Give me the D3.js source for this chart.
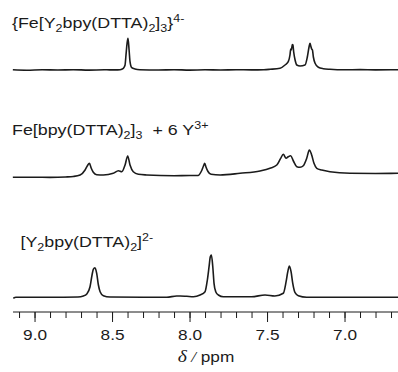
<!DOCTYPE html>
<html>
<head>
<meta charset="utf-8">
<script src="https://cdn.jsdelivr.net/npm/d3@7"></script>
<style>
  body { margin: 0; background: #fff; }
  svg { display: block; font-family: "Liberation Sans", Arial, sans-serif; }
</style>
</head>
<body>
<svg id="chart" width="398" height="372"></svg>
<script>
// spectra as [ppm, intensity]
const topSpectrum = [
  [9.14, 0.2], [9.05, -0.2], [8.95, 0.3], [8.85, 0], [8.75, 0.3], [8.65, -0.1], [8.55, 0.2],
  [8.48, 0.1], [8.448, 0.3], [8.427, 1.7], [8.416, 5], [8.41, 15], [8.403, 26.7], [8.397, 31.7],
  [8.39, 20], [8.384, 8.3], [8.373, 2.3], [8.352, 1], [8.32, 0.3], [8.2, 0], [8.1, 0.3],
  [8.0, -0.1], [7.9, 0.2], [7.8, 0], [7.7, 0.3], [7.6, 0.1], [7.52, 0.3], [7.481, 0.7],
  [7.416, 1.7], [7.384, 5], [7.363, 8.3], [7.352, 15], [7.347, 21], [7.343, 20], [7.337, 25.5],
  [7.333, 25], [7.328, 18], [7.319, 10], [7.308, 5], [7.287, 4], [7.255, 5], [7.24, 13],
  [7.229, 23], [7.223, 26.7], [7.217, 23.5], [7.212, 21], [7.207, 20], [7.201, 13], [7.19, 6.7],
  [7.169, 2.7], [7.137, 1.3], [7.094, 0.7], [7.0, 0.2], [6.9, 0.4], [6.8, 0.1], [6.655, 0.3]
];
const midSpectrum = [
  [9.14, 0.7], [9.0, 0.8], [8.9, 0.6], [8.8, 1], [8.75, 1.5], [8.706, 3], [8.674, 8],
  [8.659, 12.3], [8.646, 14.7], [8.634, 9.7], [8.621, 5.7], [8.599, 3.3], [8.556, 3],
  [8.492, 4.7], [8.459, 7.3], [8.437, 6.3], [8.416, 13], [8.399, 22], [8.384, 13], [8.363, 6.3],
  [8.33, 3.7], [8.276, 3], [8.1, 2.2], [8.0, 2.5], [7.945, 2.5], [7.923, 7], [7.91, 12],
  [7.902, 14.7], [7.894, 11], [7.881, 6.5], [7.861, 3.7], [7.803, 3], [7.674, 4.7], [7.545, 7],
  [7.481, 9.7], [7.437, 13], [7.412, 19.7], [7.395, 23.7], [7.377, 19.7], [7.363, 21.3],
  [7.347, 22.3], [7.33, 17], [7.308, 11.3], [7.287, 10.7], [7.266, 12.3], [7.244, 19.7],
  [7.227, 28], [7.212, 23], [7.197, 14.7], [7.179, 9.7], [7.147, 8], [7.094, 6.3],
  [6.965, 4.7], [6.8, 4.5], [6.655, 4.7]
];
const bottomSpectrum = [
  [9.137, -0.8], [9.12, 0.2], [8.9, 0.2], [8.72, 0.5], [8.685, 1.5], [8.663, 3.5], [8.642, 10.8],
  [8.629, 22.5], [8.621, 28.2], [8.61, 29.8], [8.599, 24.2], [8.588, 12.5], [8.577, 5.8],
  [8.556, 1.8], [8.513, 0.5], [8.3, 0.2], [8.147, 0.2], [8.083, 1.5], [8.061, 1.5], [8.018, 1.2],
  [7.975, 0.8], [7.932, 2.5], [7.9, 5.8], [7.885, 17.5], [7.874, 30.8], [7.866, 40.8],
  [7.859, 42.5], [7.85, 30.8], [7.842, 14.2], [7.831, 5.8], [7.814, 2.5], [7.782, 0.8],
  [7.6, 0.8], [7.513, 2.5], [7.45, 1.5], [7.395, 4.2], [7.377, 15.8], [7.366, 25.8],
  [7.356, 31.5], [7.345, 25.8], [7.334, 14.2], [7.319, 4.8], [7.298, 1.8], [7.244, 0.3],
  [7.0, 0.2], [6.655, 0.2]
];

const majorTicks = [9.0, 8.5, 8.0, 7.5, 7.0];
const minorTicks = [9.1, 9.0, 8.9, 8.8, 8.7, 8.6, 8.5, 8.4, 8.3, 8.2, 8.1, 8.0, 7.9, 7.8, 7.7,
  7.6, 7.5, 7.4, 7.3, 7.2, 7.1, 7.0, 6.9, 6.8, 6.7];
const tickLabels = ['9.0', '8.5', '8.0', '7.5', '7.0'];

// labels: [text, 'n' | 'sub' | 'sup']
const topLabel = [['{Fe[Y', 'n'], ['2', 'sub'], ['bpy(DTTA)', 'n'], ['2', 'sub'], [']', 'n'], ['3', 'sub'], ['}', 'n'], ['4-', 'sup']];
const midLabel = [['Fe[bpy(DTTA)', 'n'], ['2', 'sub'], [']', 'n'], ['3', 'sub'], ['\u00a0 + 6 Y', 'n'], ['3+', 'sup']];
const bottomLabel = [['[Y', 'n'], ['2', 'sub'], ['bpy(DTTA)', 'n'], ['2', 'sub'], [']', 'n'], ['2-', 'sup']];

const svg = d3.select('#chart');
const ink = '#1b1b1b';
const stretch = 1.19; // lettering in the figure is a bit wide

const x = d3.scaleLinear().domain([9.139, 6.655]).range([13, 398]);
const y = d3.scaleLinear().domain([0, 45]).range([0, -45]);

const line = d3.line()
  .x((d) => x(d[0]))
  .y((d) => y(d[1]))
  .curve(d3.curveMonotoneX);

const traces = [
  { data: topSpectrum, base: 70, label: topLabel, lx: 12, ly: 28 },
  { data: midSpectrum, base: 178, label: midLabel, lx: 12, ly: 135 },
  { data: bottomSpectrum, base: 297.5, label: bottomLabel, lx: 20.5, ly: 246.5 },
];

traces.forEach((t) => {
  svg.append('path')
    .datum(t.data)
    .attr('transform', `translate(0,${t.base})`)
    .attr('fill', 'none')
    .attr('stroke', ink)
    .attr('stroke-width', 1.6)
    .attr('stroke-linejoin', 'round')
    .attr('d', line);

  const txt = svg.append('text')
    .attr('transform', `translate(${t.lx},${t.ly}) scale(${stretch},1)`)
    .attr('font-size', 15)
    .attr('fill', ink);
  let shift = 0;
  t.label.forEach(([s, kind]) => {
    const target = kind === 'sub' ? 4 : kind === 'sup' ? -6 : 0;
    txt.append('tspan')
      .attr('dy', target - shift)
      .attr('font-size', kind === 'n' ? 15 : 10.5)
      .text(s);
    shift = target;
  });
});

// axis with minor and major ticks
const axisY = 312;
svg.append('g')
  .attr('transform', `translate(0,${axisY})`)
  .call(d3.axisBottom(x).tickValues(minorTicks).tickSize(6).tickFormat(''))
  .call((g) => g.select('.domain').attr('stroke', ink).attr('d', 'M13,0H398'))
  .call((g) => g.selectAll('.tick line').attr('stroke', ink));

svg.append('g')
  .attr('transform', `translate(0,${axisY})`)
  .call(d3.axisBottom(x).tickValues(majorTicks).tickSize(10).tickPadding(8)
    .tickFormat((d, i) => tickLabels[i]))
  .call((g) => g.select('.domain').remove())
  .call((g) => g.selectAll('.tick line').attr('stroke', ink))
  .call((g) => g.selectAll('.tick text')
    .attr('fill', ink)
    .attr('font-size', 14.5)
    .attr('transform', `scale(${stretch},1)`)
    .attr('font-family', '"Liberation Sans", Arial, sans-serif'));

const title = svg.append('text')
  .attr('transform', `translate(206,362) scale(1.15,1)`)
  .attr('text-anchor', 'middle')
  .attr('font-size', 15)
  .attr('fill', ink);
title.append('tspan')
  .attr('font-family', '"Liberation Serif", "Times New Roman", serif')
  .attr('font-style', 'italic')
  .attr('font-size', 17)
  .text('\u03b4');
title.append('tspan')
  .attr('font-family', '"Liberation Serif", "Times New Roman", serif')
  .attr('font-style', 'italic')
  .text(' /');
title.append('tspan').text(' ppm');
</script>
</body>
</html>
